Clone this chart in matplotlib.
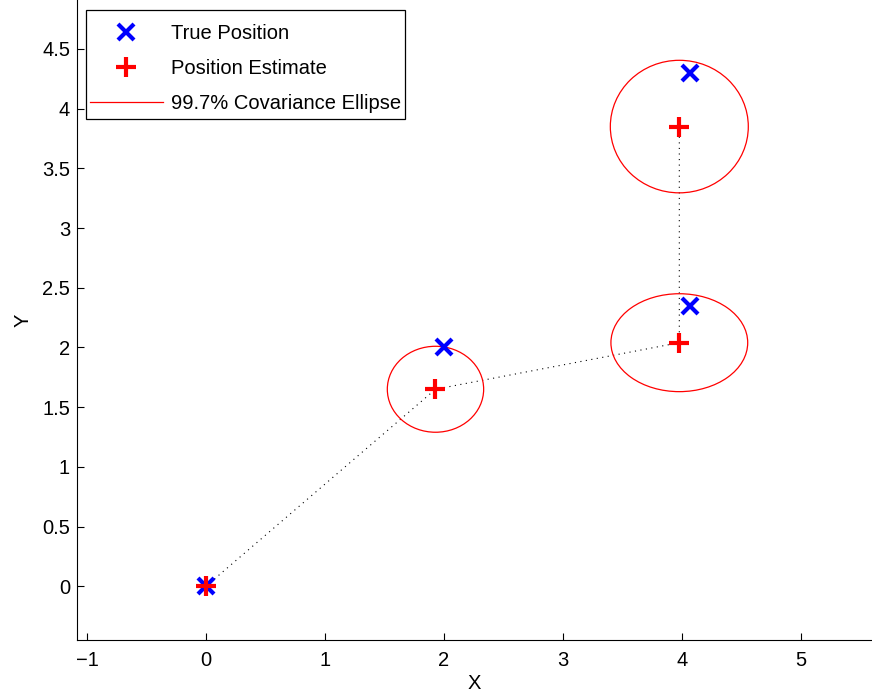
import numpy as np
import matplotlib.pyplot as plt
from matplotlib.patches import Ellipse, Rectangle
from matplotlib.lines import Line2D
from matplotlib.transforms import IdentityTransform

# True positions and estimates
true_x = [0.0, 2.0, 4.07, 4.07]
true_y = [0.0, 2.0, 2.35, 4.30]
est_x = [0.0, 1.93, 3.98, 3.98]
est_y = [0.0, 1.65, 2.04, 3.85]
# 99.7% covariance ellipses (width, height) per estimate
ell_w = [0.0, 0.81, 1.15, 1.16]
ell_h = [0.0, 0.72, 0.82, 1.11]

plt.rcParams['font.family'] = ['Liberation Sans', 'DejaVu Sans']

fig = plt.figure(figsize=(8.72, 6.94), dpi=100)
ax = fig.add_axes([0.0883, 0.0778, 0.9117, 0.9222])

# dotted path between estimates
ax.plot(est_x, est_y, color='black', linestyle=(0, (1, 4)), linewidth=0.8, zorder=1)

# ellipses
for cx, cy, w, h in zip(est_x, est_y, ell_w, ell_h):
    if w > 0:
        ax.add_patch(Ellipse((cx, cy), w, h, fill=False, edgecolor='red', linewidth=0.9, zorder=2))

ax.plot(true_x, true_y, linestyle='none', marker='x', color='blue', markersize=11,
        markeredgewidth=3, zorder=3)
ax.plot(est_x, est_y, linestyle='none', marker='+', color='red', markersize=15,
        markeredgewidth=3, zorder=4)

ax.set_xlim(-1.084, 5.6)
ax.set_ylim(-0.45, 4.91)
ax.set_xticks(range(-1, 6))
ax.set_xticklabels(['\u22121', '0', '1', '2', '3', '4', '5'])
ax.set_yticks(np.arange(0, 4.6, 0.5))
ax.set_yticklabels(['0', '0.5', '1', '1.5', '2', '2.5', '3', '3.5', '4', '4.5'])
ax.tick_params(direction='in', length=5, labelsize=14.5, width=0.8)
ax.tick_params(axis='x', pad=8)
ax.tick_params(axis='y', pad=5)
ax.spines['top'].set_visible(False)
ax.spines['right'].set_visible(False)
ax.set_xlabel('X', fontsize=14.5, labelpad=3)
ax.set_ylabel('Y', fontsize=14.5, labelpad=7)

legend_elements = [
    Line2D([0], [0], linestyle='none', marker='x', color='blue', markersize=11, markeredgewidth=3,
           label='True Position'),
    Line2D([0], [0], linestyle='none', marker='+', color='red', markersize=15, markeredgewidth=3,
           label='Position Estimate'),
    Line2D([0], [0], color='red', linewidth=0.9, label='99.7% Covariance Ellipse'),
]
leg = ax.legend(handles=legend_elements, loc='upper left', bbox_to_anchor=(0.0164, 0.9625),
                borderaxespad=0, borderpad=0, fontsize=14.5, frameon=False,
                handlelength=3.6, handletextpad=0.4, labelspacing=0.8)
leg.set_zorder(6)

# MATLAB-style legend box: tight at the sides, roomier above/below
fig.canvas.draw()
bb = leg.get_window_extent()
frame = Rectangle((bb.x0 - 4, bb.y0 - 6), bb.width + 8, bb.height + 20,
                  transform=IdentityTransform(), facecolor='white', edgecolor='black',
                  linewidth=0.9, zorder=5, clip_on=False)
ax.add_artist(frame)

fig.savefig('out.png', dpi=100)
